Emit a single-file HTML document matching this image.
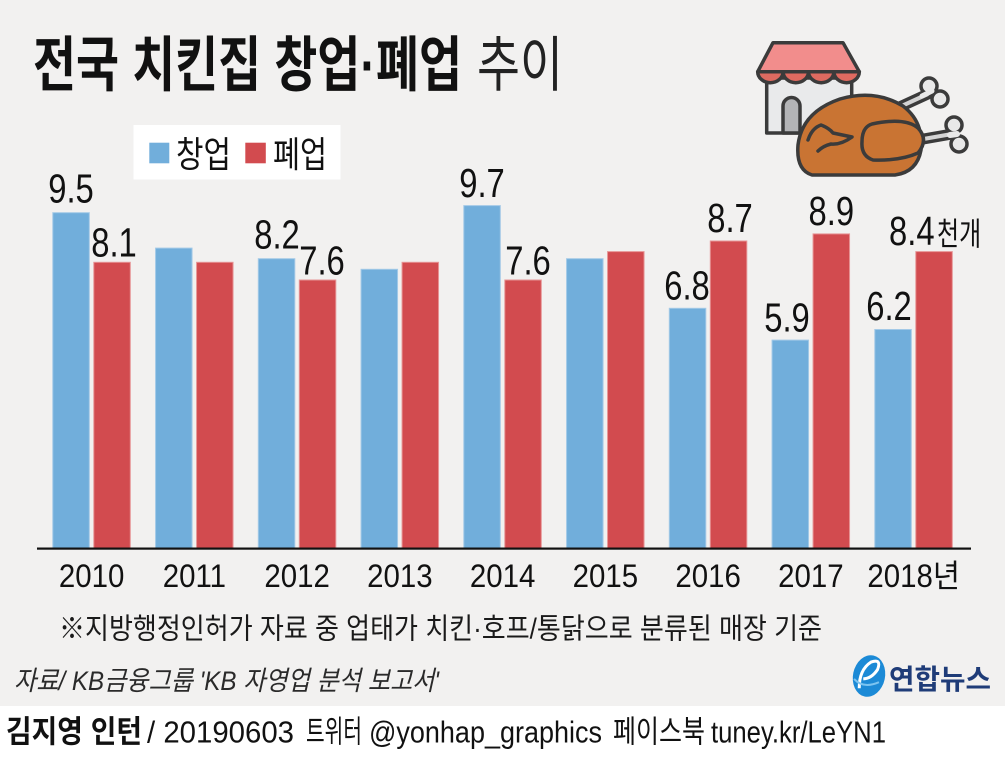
<!DOCTYPE html>
<html>
<head>
<meta charset="utf-8">
<style>
html,body{margin:0;padding:0;background:#fff;}
svg{display:block;}
text{font-family:"Liberation Sans","Noto Sans CJK KR",sans-serif;}
</style>
</head>
<body>
<svg width="1005" height="763" viewBox="0 0 1005 763" xmlns="http://www.w3.org/2000/svg">
  <rect x="0" y="0" width="1005" height="706" fill="#f2f1f0"/>
  <rect x="0" y="706" width="1005" height="57" fill="#ffffff"/>

  <!-- Title -->
  <text x="33" y="86" font-size="60" font-weight="700" fill="#111" textLength="429" lengthAdjust="spacingAndGlyphs">전국 치킨집 창업·폐업</text>
  <text x="477" y="86" font-size="60" font-weight="400" fill="#222" textLength="86" lengthAdjust="spacingAndGlyphs">추이</text>

  <!-- Icon: shop -->
  <g stroke="#3b3b3b" stroke-width="3.5" stroke-linejoin="round" stroke-linecap="round">
    <rect x="766.7" y="78" width="85" height="55" fill="#e9eaeb"/>
    <path d="M783,133 V106 a8.5,8.5 0 0 1 17,0 V133 Z" fill="#b3b4b6"/>
    <polygon points="773,42.7 843,42.7 859.3,71.7 757.7,71.7" fill="#f28d8c"/>
    <path d="M757.7,71.7 a12.7,11 0 0 0 25.4,0 a12.7,11 0 0 0 25.4,0 a12.7,11 0 0 0 25.4,0 a12.7,11 0 0 0 25.4,0 Z" fill="#df6a60"/>
  </g>
  <!-- Icon: chicken -->
  <g stroke="#3b3b3b" stroke-width="3.5" stroke-linejoin="round" stroke-linecap="round">
    <line x1="893" y1="110" x2="930" y2="93" stroke="#3b3b3b" stroke-width="11"/>
    <line x1="893" y1="110" x2="930" y2="93" stroke="#d4d4d4" stroke-width="4"/>
    <circle cx="929" cy="86" r="8" fill="#e8e8e8"/>
    <circle cx="940" cy="99" r="8" fill="#e8e8e8"/>
    <line x1="922" y1="96" x2="932" y2="91" stroke="#e8e8e8" stroke-width="5"/>
    <line x1="912" y1="141" x2="952" y2="134" stroke="#3b3b3b" stroke-width="11"/>
    <line x1="912" y1="141" x2="952" y2="134" stroke="#d4d4d4" stroke-width="4"/>
    <circle cx="954" cy="125" r="8" fill="#e8e8e8"/>
    <circle cx="959" cy="144" r="8" fill="#e8e8e8"/>
    <line x1="950" y1="135" x2="957" y2="134" stroke="#e8e8e8" stroke-width="6"/>
    <path d="M812,175 Q796,170 798,145 Q802,112 840,99 Q875,89 903,106 Q924,122 921,150 Q917,172 895,175 Z" fill="#c97433"/>
    <path d="M872,124 Q905,117 918,128 Q929,140 918,153 Q900,161 873,160 Q861,156 862,142 Q862,127 872,124 Z" fill="#c97433"/>
    <path d="M808,140 Q812,128 821,125 Q829,128 833,133 L852,137 Q841,145 831,144 Q823,146 818,151" fill="none"/>
  </g>

  <!-- Legend -->
  <rect x="133.5" y="125" width="207" height="54.5" fill="#ffffff"/>
  <rect x="149.3" y="142.7" width="20" height="20.6" fill="#71aedb"/>
  <text x="176" y="167" font-size="36" fill="#111" textLength="55" lengthAdjust="spacingAndGlyphs">창업</text>
  <rect x="245.3" y="142.7" width="20.5" height="20.6" fill="#d24b4f"/>
  <text x="273" y="167" font-size="36" fill="#111" textLength="54" lengthAdjust="spacingAndGlyphs">폐업</text>

  <!-- Bars -->
  <g stroke-width="1">
    <g fill="#71aedb" stroke="#a3c9e7">
      <rect x="52.8" y="212.7" width="36.5" height="335.3"/>
      <rect x="155.55" y="248.1" width="36.5" height="299.9"/>
      <rect x="258.3" y="258.7" width="36.5" height="289.3"/>
      <rect x="361.05" y="269.3" width="36.5" height="278.7"/>
      <rect x="463.8" y="205.6" width="36.5" height="342.4"/>
      <rect x="566.55" y="258.7" width="36.5" height="289.3"/>
      <rect x="669.3" y="308.3" width="36.5" height="239.7"/>
      <rect x="772.05" y="340.1" width="36.5" height="207.9"/>
      <rect x="874.8" y="329.5" width="36.5" height="218.5"/>
    </g>
    <g fill="#d24b4f" stroke="#e79596">
      <rect x="93.8" y="262.3" width="36.5" height="285.7"/>
      <rect x="196.55" y="262.3" width="36.5" height="285.7"/>
      <rect x="299.3" y="280" width="36.5" height="268"/>
      <rect x="402.05" y="262.3" width="36.5" height="285.7"/>
      <rect x="504.8" y="280" width="36.5" height="268"/>
      <rect x="607.55" y="251.6" width="36.5" height="296.4"/>
      <rect x="710.3" y="241" width="36.5" height="307"/>
      <rect x="813.05" y="233.9" width="36.5" height="314.1"/>
      <rect x="915.8" y="251.6" width="36.5" height="296.4"/>
    </g>
  </g>
  <rect x="37" y="547.5" width="934" height="2.2" fill="#111"/>

  <!-- Value labels -->
  <g font-size="41" fill="#111" text-anchor="middle">
    <text transform="translate(71,202.7) scale(0.8,1)">9.5</text>
    <text transform="translate(114,256.7) scale(0.8,1)">8.1</text>
    <text transform="translate(277,248.3) scale(0.8,1)">8.2</text>
    <text transform="translate(322,274.3) scale(0.8,1)">7.6</text>
    <text transform="translate(482,196.8) scale(0.8,1)">9.7</text>
    <text transform="translate(528,274.3) scale(0.8,1)">7.6</text>
    <text transform="translate(687,299.5) scale(0.8,1)">6.8</text>
    <text transform="translate(730,232) scale(0.8,1)">8.7</text>
    <text transform="translate(787,331.7) scale(0.8,1)">5.9</text>
    <text transform="translate(831.3,225) scale(0.8,1)">8.9</text>
    <text transform="translate(889,320) scale(0.8,1)">6.2</text>
  </g>
  <text transform="translate(889,245) scale(0.8,1)" font-size="41" fill="#111">8.4</text>
  <text transform="translate(937,245) scale(0.75,1)" font-size="32" fill="#111">천개</text>

  <!-- Year labels -->
  <g font-size="32" fill="#111" text-anchor="middle">
    <text transform="translate(91.65,587) scale(0.92,1)">2010</text>
    <text transform="translate(194.4,587) scale(0.92,1)">2011</text>
    <text transform="translate(297.15,587) scale(0.92,1)">2012</text>
    <text transform="translate(399.9,587) scale(0.92,1)">2013</text>
    <text transform="translate(502.65,587) scale(0.92,1)">2014</text>
    <text transform="translate(605.4,587) scale(0.92,1)">2015</text>
    <text transform="translate(708.15,587) scale(0.92,1)">2016</text>
    <text transform="translate(810.9,587) scale(0.92,1)">2017</text>
    <text transform="translate(913.65,587) scale(0.92,1)">2018년</text>
  </g>

  <!-- Footnote -->
  <text x="59" y="638.5" font-size="29" fill="#1a1a1a" textLength="763" lengthAdjust="spacingAndGlyphs">※지방행정인허가 자료 중 업태가 치킨·호프/통닭으로 분류된 매장 기준</text>

  <!-- Source -->
  <text x="14" y="690" font-size="27" font-style="italic" fill="#2a2a2a" textLength="425" lengthAdjust="spacingAndGlyphs">자료/ KB금융그룹 'KB 자영업 분석 보고서'</text>

  <!-- Yonhap logo -->
  <g transform="rotate(12 869 676)">
    <ellipse cx="869" cy="676" rx="16" ry="21" fill="#1c8ad6"/>
    <path d="M862,690 Q858,672 868,662 Q878,656 876,668 Q872,678 864,680" fill="none" stroke="#ffffff" stroke-width="3"/>
    <path d="M855,682 Q866,690 880,680" fill="none" stroke="#7cc4f0" stroke-width="2"/>
  </g>
  <text x="889" y="689" font-size="28" font-weight="700" fill="#1f3c78" textLength="102" lengthAdjust="spacingAndGlyphs">연합뉴스</text>

  <!-- Credits -->
  <text x="6" y="742.5" font-size="31" font-weight="700" fill="#111" textLength="136" lengthAdjust="spacingAndGlyphs">김지영 인턴</text>
  <text x="147" y="742.5" font-size="31" fill="#111" textLength="147" lengthAdjust="spacingAndGlyphs">/ 20190603</text>
  <text x="306" y="742.5" font-size="31" fill="#111" textLength="56" lengthAdjust="spacingAndGlyphs">트위터</text>
  <text x="369" y="742.5" font-size="31" fill="#111" textLength="233" lengthAdjust="spacingAndGlyphs">@yonhap_graphics</text>
  <text x="613" y="742.5" font-size="31" fill="#111" textLength="92" lengthAdjust="spacingAndGlyphs">페이스북</text>
  <text x="711" y="742.5" font-size="31" fill="#111" textLength="175" lengthAdjust="spacingAndGlyphs">tuney.kr/LeYN1</text>
</svg>
</body>
</html>
